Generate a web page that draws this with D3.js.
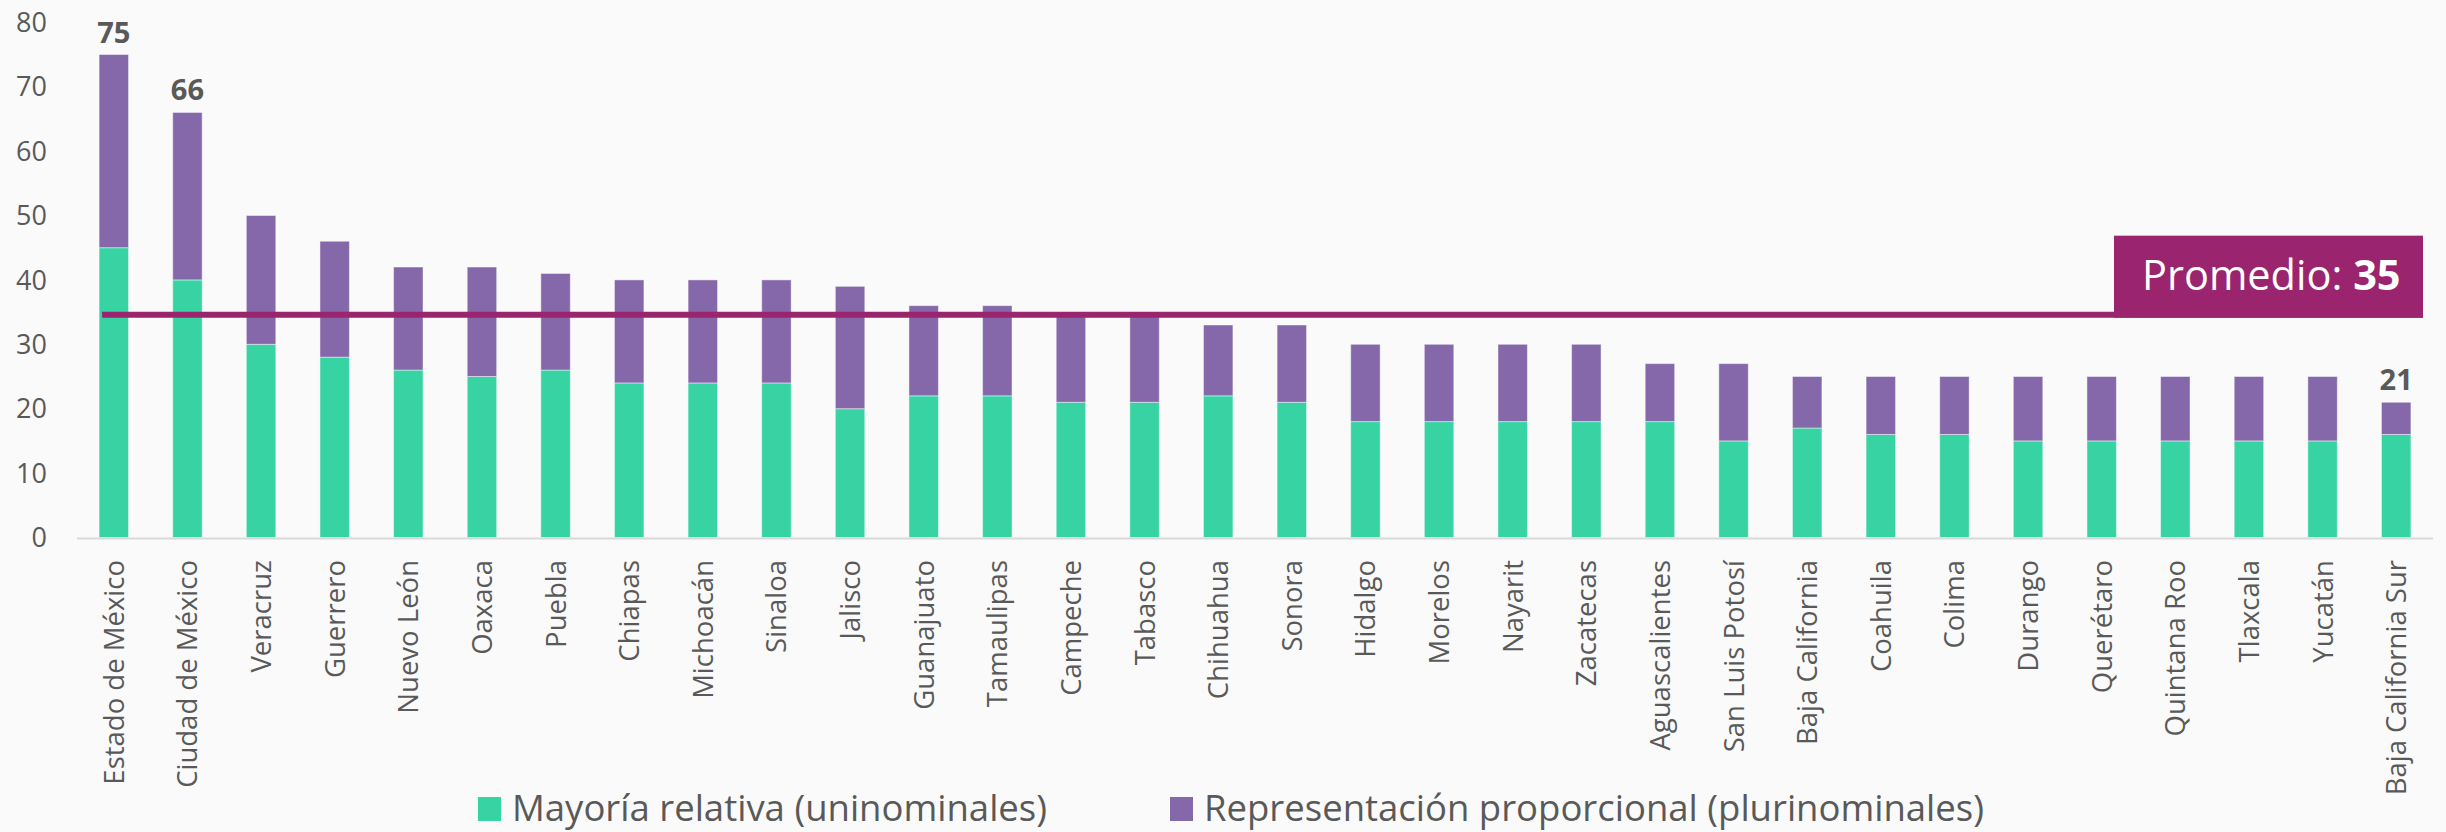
<!DOCTYPE html>
<html lang="es">
<head>
  <meta charset="UTF-8">
  <title>Diputados locales por entidad</title>
  <script src="https://d3js.org/d3.v7.min.js"></script>
  <style>
    html, body {
      margin: 0;
      padding: 0;
      background: #fafafa;
    }

    svg {
      display: block;
      font-family: "Open Sans", sans-serif;
    }

    .tick-label, .cat-label, .legend-text {
      fill: #595959;
    }

    .value-label {
      fill: #595959;
      font-weight: bold;
    }
  </style>
</head>
<body>
  <svg id="chart"></svg>
  <script>
    const estados = [
      "Estado de México", "Ciudad de México", "Veracruz", "Guerrero", "Nuevo León",
      "Oaxaca", "Puebla", "Chiapas", "Michoacán", "Sinaloa", "Jalisco", "Guanajuato",
      "Tamaulipas", "Campeche", "Tabasco", "Chihuahua", "Sonora", "Hidalgo", "Morelos",
      "Nayarit", "Zacatecas", "Aguascalientes", "San Luis Potosí", "Baja California",
      "Coahuila", "Colima", "Durango", "Querétaro", "Quintana Roo", "Tlaxcala",
      "Yucatán", "Baja California Sur"
    ];

    // mayoría relativa (uninominales)
    const mayoria = [
      45, 40, 30, 28, 26, 25, 26, 24, 24, 24, 20, 22, 22, 21, 21, 22,
      21, 18, 18, 18, 18, 18, 15, 17, 16, 16, 15, 15, 15, 15, 15, 16
    ];

    // representación proporcional (plurinominales)
    const representacion = [
      30, 26, 20, 18, 16, 17, 15, 16, 16, 16, 19, 14, 14, 14, 14, 11,
      12, 12, 12, 12, 12, 9, 12, 8, 9, 9, 10, 10, 10, 10, 10, 5
    ];

    const promedio = 34.6;
    const yTicks = [0, 10, 20, 30, 40, 50, 60, 70, 80];
    const etiquetados = ["Estado de México", "Ciudad de México", "Baja California Sur"];
    const series = ["Mayoría relativa (uninominales)", "Representación proporcional (plurinominales)"];

    const width = 2446;
    const height = 832;
    const colors = ["#37d3a3", "#8568aa"];
    const lineColor = "#9a246e";

    const svg = d3.select("#chart")
      .attr("width", width)
      .attr("height", height);

    const x = d3.scaleBand()
      .domain(estados)
      .range([77, 2433])
      .paddingInner(0.6)
      .paddingOuter(0.3);

    const y = d3.scaleLinear()
      .domain([0, 80])
      .range([537.5, 22.3]);

    const rows = estados.map((e, i) => ({ estado: e, mr: mayoria[i], rp: representacion[i] }));
    const stacked = d3.stack().keys(["mr", "rp"])(rows);

    // bars
    svg.append("g")
      .selectAll("g")
      .data(stacked)
      .join("g")
      .attr("fill", (d, i) => colors[i])
      .selectAll("rect")
      .data(d => d)
      .join("rect")
      .attr("x", d => x(d.data.estado))
      .attr("y", d => y(d[1]))
      .attr("width", x.bandwidth())
      .attr("height", d => y(d[0]) - y(d[1]))
      .attr("stroke", "#ffffff")
      .attr("stroke-opacity", 0.45)
      .attr("stroke-width", 1);

    // axis line
    svg.append("line")
      .attr("x1", 77).attr("x2", 2433)
      .attr("y1", y(0) + 1).attr("y2", y(0) + 1)
      .attr("stroke", "#d9d9d9")
      .attr("stroke-width", 2);

    // y tick labels
    svg.append("g")
      .selectAll("text")
      .data(yTicks)
      .join("text")
      .attr("class", "tick-label")
      .attr("x", 47)
      .attr("y", d => y(d))
      .attr("dy", "0.36em")
      .attr("text-anchor", "end")
      .attr("font-size", 27)
      .text(d => d);

    // category labels
    svg.append("g")
      .selectAll("text")
      .data(estados)
      .join("text")
      .attr("class", "cat-label")
      .attr("font-size", 27.5)
      .attr("text-anchor", "end")
      .attr("transform", d => `translate(${x(d) + x.bandwidth() / 2 + 10},560) rotate(-90)`)
      .text(d => d);

    // totals on labelled bars
    svg.append("g")
      .selectAll("text")
      .data(rows.filter(r => etiquetados.includes(r.estado)))
      .join("text")
      .attr("class", "value-label")
      .attr("font-size", 29)
      .attr("text-anchor", "middle")
      .attr("x", d => x(d.estado) + x.bandwidth() / 2)
      .attr("y", d => y(d.mr + d.rp) - 12)
      .text(d => d.mr + d.rp);

    // promedio line and box
    svg.append("line")
      .attr("x1", x(estados[0]) + 3)
      .attr("x2", 2423)
      .attr("y1", y(promedio)).attr("y2", y(promedio))
      .attr("stroke", lineColor)
      .attr("stroke-width", 6);

    const boxBottom = y(promedio) + 3;
    svg.append("rect")
      .attr("x", 2114)
      .attr("y", boxBottom - 82)
      .attr("width", 309)
      .attr("height", 82)
      .attr("fill", lineColor);

    const boxText = svg.append("text")
      .attr("x", 2142)
      .attr("y", boxBottom - 28)
      .attr("fill", "#ffffff")
      .attr("font-size", 41.5);
    boxText.append("tspan").text("Promedio: ");
    boxText.append("tspan").attr("font-weight", "bold").text(Math.round(promedio));

    // legend
    const legendX = [478, 1170];
    const legend = svg.append("g")
      .selectAll("g")
      .data(series)
      .join("g")
      .attr("transform", (d, i) => `translate(${legendX[i]},797)`);

    legend.append("rect")
      .attr("width", 23)
      .attr("height", 24)
      .attr("fill", (d, i) => colors[i]);

    legend.append("text")
      .attr("class", "legend-text")
      .attr("x", 34)
      .attr("y", 23.5)
      .attr("font-size", 36.5)
      .text(d => d);
  </script>
</body>
</html>
